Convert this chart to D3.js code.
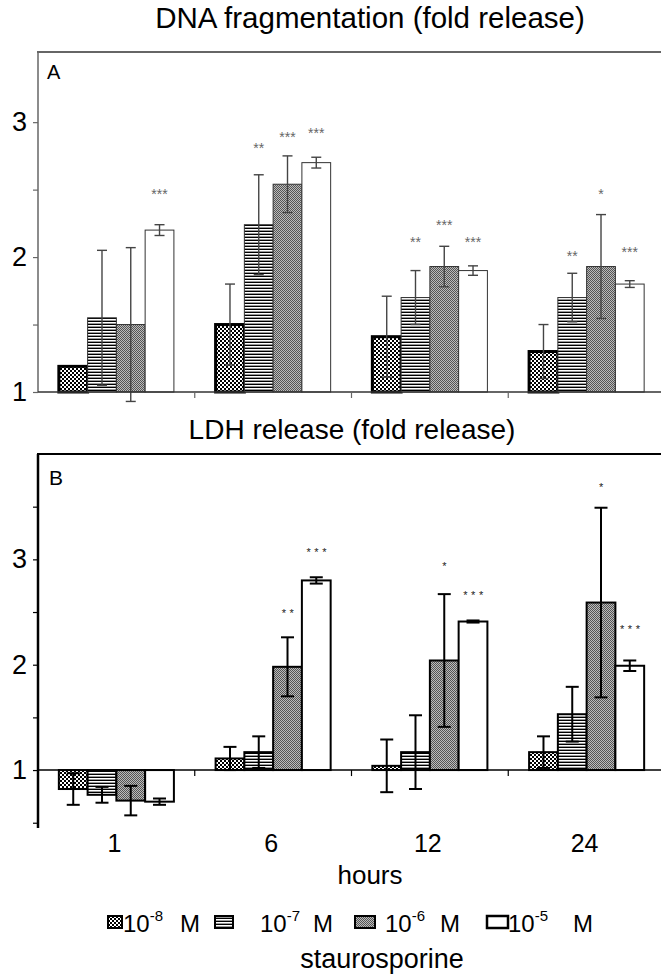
<!DOCTYPE html>
<html>
<head>
<meta charset="utf-8">
<script src="https://cdn.jsdelivr.net/npm/d3@7"></script>
<style>
body { margin: 0; background: #fff; }
text { font-family: "Liberation Sans", Arial, sans-serif; }
</style>
</head>
<body>
<svg id="chart" width="661" height="976"></svg>
<script>
var hours = ["1", "6", "12", "24"];
var doses = ["-8", "-7", "-6", "-5"];   // staurosporine 10^x M

// A: DNA fragmentation, rows = hours, columns = doses
var dnaMean = [[1.19, 1.55, 1.50, 2.20],
               [1.50, 2.24, 2.54, 2.70],
               [1.41, 1.70, 1.93, 1.90],
               [1.30, 1.70, 1.93, 1.80]];
var dnaErr = [[0, 0.50, 0.57, 0.04],
              [0.30, 0.37, 0.21, 0.04],
              [0.30, 0.20, 0.15, 0.035],
              [0.20, 0.18, 0.385, 0.025]];
var dnaStars = [["", "", "", "***"],
                ["", "**", "***", "***"],
                ["", "**", "***", "***"],
                ["", "**", "*", "***"]];
var dnaStarAt = [[0, 0, 0, 2.47],
                 [0, 2.81, 2.89, 2.92],
                 [0, 2.11, 2.24, 2.11],
                 [0, 2.01, 2.47, 2.04]];

// B: LDH release
var ldhMean = [[0.82, 0.765, 0.71, 0.70],
               [1.11, 1.17, 1.98, 2.80],
               [1.04, 1.17, 2.04, 2.41],
               [1.17, 1.53, 2.59, 1.99]];
var ldhErr = [[0.15, 0.075, 0.14, 0.03],
              [0.11, 0.15, 0.28, 0.03],
              [0.25, 0.35, 0.63, 0.01],
              [0.15, 0.26, 0.90, 0.05]];
var ldhStars = [["", "", "", ""],
                ["", "", "**", "***"],
                ["", "", "*", "***"],
                ["", "", "*", "***"]];
var ldhStarAt = [[0, 0, 0, 0],
                 [0, 0, 2.50, 3.08],
                 [0, 0, 2.95, 2.67],
                 [0, 0, 3.70, 2.35]];

var svg = d3.select("#chart");
var defs = svg.append("defs");

/* fill patterns, one per dose */
var p8 = defs.append("pattern").attr("id", "p0").attr("patternUnits", "userSpaceOnUse")
    .attr("width", 4).attr("height", 4);
p8.append("rect").attr("width", 4).attr("height", 4).attr("fill", "#fff");
p8.append("rect").attr("width", 2).attr("height", 2).attr("fill", "#000");
p8.append("rect").attr("x", 2).attr("y", 2).attr("width", 2).attr("height", 2).attr("fill", "#000");

var p7 = defs.append("pattern").attr("id", "p1").attr("patternUnits", "userSpaceOnUse")
    .attr("width", 4).attr("height", 3);
p7.append("rect").attr("width", 4).attr("height", 3).attr("fill", "#fff");
p7.append("rect").attr("width", 4).attr("height", 1).attr("fill", "#000");
p7.append("rect").attr("y", 2).attr("width", 4).attr("height", 1).attr("fill", "#999");

var p6 = defs.append("pattern").attr("id", "p2").attr("patternUnits", "userSpaceOnUse")
    .attr("width", 2).attr("height", 2);
p6.append("rect").attr("width", 2).attr("height", 2).attr("fill", "#bbb");
p6.append("rect").attr("width", 1).attr("height", 1).attr("fill", "#555");
p6.append("rect").attr("x", 1).attr("y", 1).attr("width", 1).attr("height", 1).attr("fill", "#555");

var fills = ["url(#p0)", "url(#p1)", "url(#p2)", "#fff"];

var x = d3.scaleBand().domain(hours).range([38, 665]).paddingInner(0.266).paddingOuter(0.133);
var xs = d3.scaleBand().domain(doses).range([0, x.bandwidth()]);

var yA = d3.scaleLinear().domain([1, 3.52]).range([392, 52]);
var yB = d3.scaleLinear().domain([0.45, 4.0]).range([828, 454]);

function cells(mean, err, stars, starAt) {
    var out = [];
    hours.forEach(function(h, i) {
        doses.forEach(function(d, j) {
            out.push({h: h, d: d, j: j, v: mean[i][j], e: err[i][j], s: stars[i][j], sy: starAt[i][j]});
        });
    });
    return out;
}

function panel(y, data, st) {
    var g = svg.append("g");
    var cx = function(d) { return x(d.h) + xs(d.d) + xs.bandwidth() / 2; };

    g.selectAll("rect.bar").data(data).enter().append("rect")
        .attr("class", "bar")
        .attr("x", function(d) { return x(d.h) + xs(d.d); })
        .attr("width", xs.bandwidth())
        .attr("y", function(d) { return y(Math.max(d.v, 1)); })
        .attr("height", function(d) { return Math.abs(y(d.v) - y(1)); })
        .attr("fill", function(d) { return fills[d.j]; })
        .attr("stroke", function(d) { return st.barStroke(d); })
        .attr("stroke-width", function(d) { return st.barWidth(d); });

    var eb = g.selectAll("g.err").data(data.filter(function(d) { return d.e > 0; }))
        .enter().append("g")
        .attr("stroke", st.errColor).attr("stroke-width", st.errWidth);
    eb.append("line")
        .attr("x1", cx).attr("x2", cx)
        .attr("y1", function(d) { return y(d.v - d.e); })
        .attr("y2", function(d) { return y(d.v + d.e); });
    [-1, 1].forEach(function(k) {
        eb.append("line")
            .attr("x1", function(d) { return cx(d) - st.cap; })
            .attr("x2", function(d) { return cx(d) + st.cap; })
            .attr("y1", function(d) { return y(d.v + k * d.e); })
            .attr("y2", function(d) { return y(d.v + k * d.e); });
    });

    g.selectAll("text.star").data(data.filter(function(d) { return d.s; }))
        .enter().append("text")
        .attr("x", function(d) { return cx(d) + st.starShift; })
        .attr("y", function(d) { return y(d.sy) + 5; })
        .attr("text-anchor", "middle")
        .style("font-size", st.starSize + "px")
        .style("letter-spacing", st.starSpacing + "px")
        .attr("fill", st.starColor)
        .text(function(d) { return d.s; });

    // y axis
    var ax = g.append("g").attr("transform", "translate(38,0)")
        .call(d3.axisLeft(y).tickValues(st.ticks).tickSize(5).tickPadding(6)
            .tickFormat(function(d) { return d % 1 ? "" : d; }));
    ax.select(".domain").remove();
    ax.selectAll("line").attr("stroke", st.axisColor).attr("stroke-width", 1.2);
    ax.selectAll("text").attr("fill", "#000").style("font-size", "27px")
        .style("font-family", "'Liberation Sans', Arial, sans-serif");

    g.append("line").attr("x1", 38).attr("x2", 38)
        .attr("y1", y.range()[1]).attr("y2", st.axisBottom)
        .attr("stroke", st.axisColor).attr("stroke-width", st.axisWidth);
    g.append("line").attr("x1", 37).attr("x2", 661)
        .attr("y1", y.range()[1]).attr("y2", y.range()[1])
        .attr("stroke", st.axisColor).attr("stroke-width", 2);
    g.append("line").attr("x1", 38).attr("x2", 661)
        .attr("y1", y(1)).attr("y2", y(1))
        .attr("stroke", st.baseColor).attr("stroke-width", 1.4);

    g.selectAll("line.xt").data(d3.range(1, hours.length)).enter().append("line")
        .attr("x1", function(i) { return x.range()[0] + i * x.step(); })
        .attr("x2", function(i) { return x.range()[0] + i * x.step(); })
        .attr("y1", y(1)).attr("y2", y(1) + 6)
        .attr("stroke", st.axisColor).attr("stroke-width", 1.2);

    g.append("text").attr("x", st.labelX).attr("y", y.range()[1] + st.labelDy)
        .style("font-size", st.labelSize + "px").text(st.label);
}

panel(yA, cells(dnaMean, dnaErr, dnaStars, dnaStarAt), {
    barStroke: function(d) { return d.j === 0 ? "#000" : "#333"; },
    barWidth: function(d) { return d.j === 0 ? 3 : 1; },
    errColor: "#444", errWidth: 1.4, cap: 5,
    starSize: 14, starSpacing: 0, starColor: "#666", starShift: 0,
    ticks: [1, 1.5, 2, 2.5, 3], axisColor: "#666", axisWidth: 1.5, axisBottom: 392,
    baseColor: "#333", label: "A", labelX: 47, labelDy: 27, labelSize: 20
});

panel(yB, cells(ldhMean, ldhErr, ldhStars, ldhStarAt), {
    barStroke: function() { return "#000"; },
    barWidth: function() { return 2; },
    errColor: "#000", errWidth: 2, cap: 6.5,
    starSize: 11, starSpacing: 3.5, starColor: "#222", starShift: 2,
    ticks: [0.5, 1, 1.5, 2, 2.5, 3, 3.5], axisColor: "#000", axisWidth: 2.5, axisBottom: 828,
    baseColor: "#000", label: "B", labelX: 49, labelDy: 31, labelSize: 21
});

// titles
svg.append("text").attr("x", 370).attr("y", 28).attr("text-anchor", "middle")
    .style("font-size", "29.5px").text("DNA fragmentation (fold release)");
svg.append("text").attr("x", 352).attr("y", 439).attr("text-anchor", "middle")
    .style("font-size", "28px").text("LDH release (fold release)");

// hours labels
svg.selectAll("text.hr").data(hours).enter().append("text")
    .attr("x", function(h) { return x(h) + x.bandwidth() / 2 - 2; })
    .attr("y", 852).attr("text-anchor", "middle")
    .style("font-size", "25px").text(function(h) { return h; });
svg.append("text").attr("x", 370).attr("y", 884).attr("text-anchor", "middle")
    .style("font-size", "26px").text("hours");

// legend
var legBox = [[108, 14], [215, 18], [355, 20], [487, 21]];
var legText = [123, 260, 385, 508];
var legM = [180, 313, 440, 573];
var leg = svg.selectAll("g.leg").data(doses).enter().append("g");
leg.append("rect")
    .attr("x", function(d, j) { return legBox[j][0]; })
    .attr("y", 916).attr("height", 12)
    .attr("width", function(d, j) { return legBox[j][1]; })
    .attr("fill", function(d, j) { return fills[j]; })
    .attr("stroke", "#000")
    .attr("stroke-width", function(d, j) { return j === 3 ? 2.5 : 2; });
var lt = leg.append("text").attr("x", function(d, j) { return legText[j]; })
    .attr("y", 932).style("font-size", "24px");
lt.append("tspan").text("10");
lt.append("tspan").attr("dy", -11).style("font-size", "15px").text(function(d) { return d; });
leg.append("text").attr("x", function(d, j) { return legM[j]; })
    .attr("y", 932).style("font-size", "24px").text("M");
svg.append("text").attr("x", 382).attr("y", 968).attr("text-anchor", "middle")
    .style("font-size", "27px").text("staurosporine");
</script>
</body>
</html>
